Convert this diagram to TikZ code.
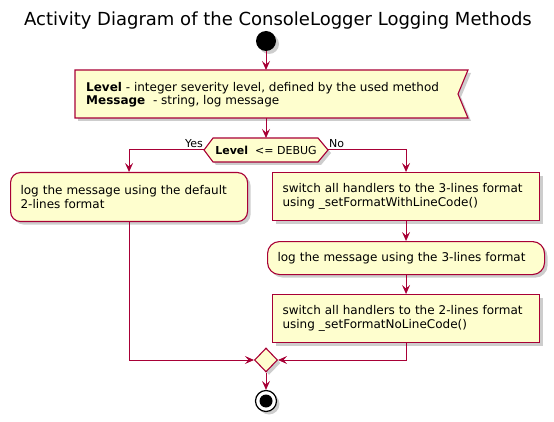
\documentclass[tikz,border=0pt]{standalone}
\usepackage{fontspec}
\setmainfont{DejaVu Sans}
\usetikzlibrary{arrows.meta,shapes.geometric,shadows}
\definecolor{pfill}{HTML}{FEFECE}
\definecolor{pline}{HTML}{A80036}
\tikzset{
  x=1pt,y=-1pt,
  >={Stealth[length=9pt,width=8pt,inset=3.5pt]},
  myshadow/.style={drop shadow={shadow xshift=3pt,shadow yshift=-3pt,opacity=0.28,fill=black!70}},
  actbox/.style={draw=pline,fill=pfill,line width=1.1pt,myshadow,anchor=north west,
    align=left,inner xsep=10pt,inner ysep=0pt,font=\fontsize{12}{14}\selectfont},
  roundbox/.style={actbox,rounded corners=10pt},
  flow/.style={draw=pline,line width=1pt,->},
  lbl/.style={font=\fontsize{11}{13}\selectfont,inner sep=0pt},
}
\begin{document}
\begin{tikzpicture}
\useasboundingbox (0,0) rectangle (554,422);
% title
\node[font=\fontsize{18}{21}\selectfont,inner sep=0pt] (title) at (278,21) {Activity Diagram of the ConsoleLogger Logging Methods};
% start
\node[circle,fill=black,minimum size=20pt,inner sep=0pt,myshadow] (start) at (266,41) {};
% input flag box
\path[draw=pline,fill=pfill,line width=1.1pt,myshadow] (75,70) -- (468,70) -- (458,94) -- (468,118) -- (75,118) -- cycle;
\node[anchor=west,align=left,inner sep=0pt,font=\fontsize{12}{13.5}\selectfont] (intext) at (86,94.5)
  {\textbf{Level} - integer severity level, defined by the used method\\\textbf{Message}\ \ - string, log message};
\coordinate (intop) at (266,70);
\coordinate (inbot) at (266,118);
% decision hexagon
\path[draw=pline,fill=pfill,line width=1.1pt,myshadow] (204,150) -- (213,138) -- (318,138) -- (328,150) -- (318,162) -- (213,162) -- cycle;
\node[lbl] (cond) at (266,150.5) {\textbf{Level}\ \ <= DEBUG};
\coordinate (hextop) at (266,138);
\coordinate (hexW) at (204,150);
\coordinate (hexE) at (328,150);
\node[lbl,anchor=east] (yes) at (203,144) {Yes};
\node[lbl,anchor=west] (no) at (329,144) {No};
% activities
\node[roundbox,text width=217pt,minimum height=49pt] (lbox) at (10,172)
  {log the message using the default\\2-lines format};
\node[actbox,text width=247pt,minimum height=48pt] (box1) at (272,172)
  {switch all handlers to the 3-lines format\\using \_setFormatWithLineCode()};
\node[roundbox,text width=257pt,minimum height=33pt,rounded corners=12pt] (box2) at (267,241)
  {log the message using the 3-lines format};
\node[actbox,text width=247pt,minimum height=48pt] (box3) at (272,294)
  {switch all handlers to the 2-lines format\\using \_setFormatNoLineCode()};
% merge
\node[diamond,draw=pline,fill=pfill,line width=1.1pt,minimum width=23pt,minimum height=24pt,inner sep=0pt,myshadow] (merge) at (266,360) {};
% end
\node[circle,draw=black,fill=white,line width=1.2pt,minimum size=21pt,inner sep=0pt,myshadow] (stop) at (266,401) {};
\node[circle,fill=black,minimum size=13pt,inner sep=0pt] (stopin) at (stop) {};
% connectors
\draw[flow] (start) -- (intop);
\draw[flow] (inbot) -- (hextop);
\draw[flow] (hexW) -| (lbox.north);
\draw[flow] (hexE) -| (box1.north);
\draw[flow] (box1.south) -- (box2.north);
\draw[flow] (box2.south) -- (box3.north);
\draw[flow] (lbox.south) |- (merge.west);
\draw[flow] (box3.south) |- (merge.east);
\draw[flow] (merge.south) -- (stop.north);
\end{tikzpicture}
\end{document}
